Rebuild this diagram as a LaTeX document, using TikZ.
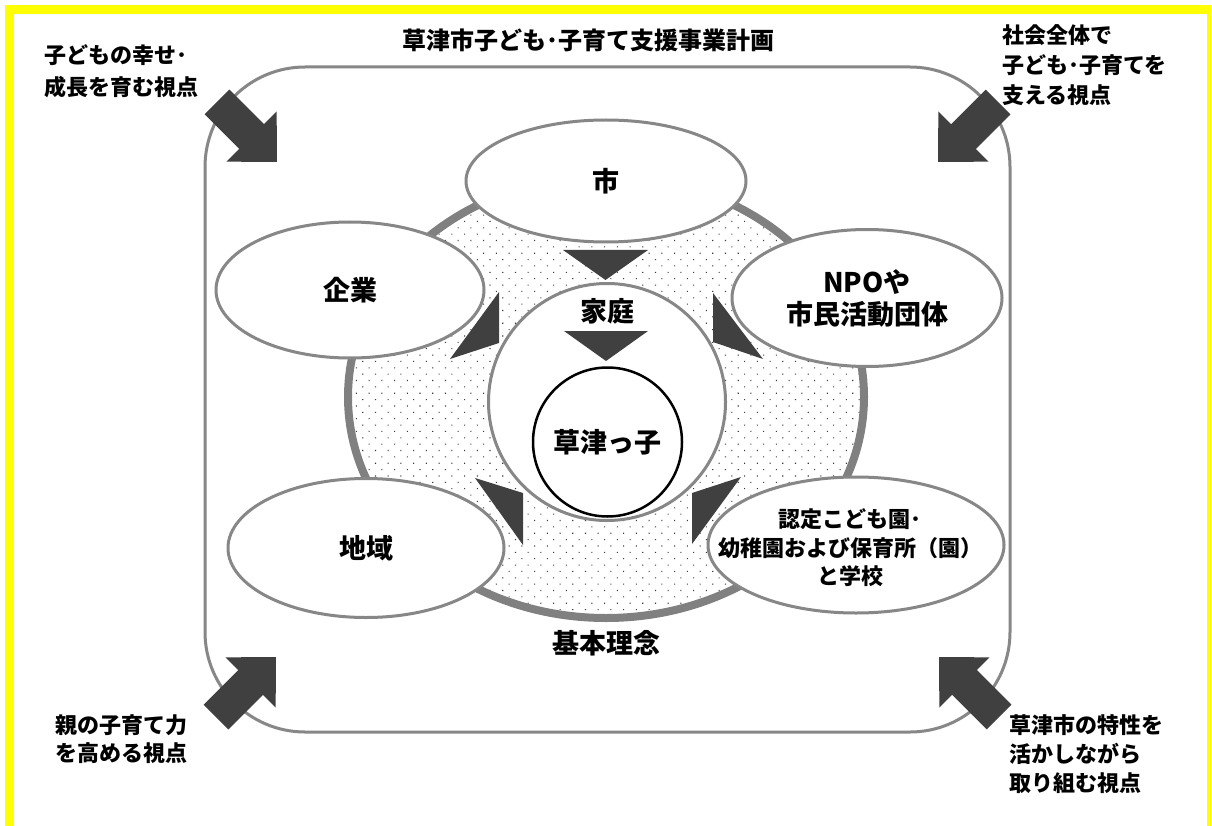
\documentclass[tikz,border=0pt]{standalone}
\usepackage{fontspec}
\setmainfont{Noto Sans CJK JP}
\usetikzlibrary{shapes.geometric,patterns.meta}
\definecolor{frameyellow}{HTML}{FFFF00}
\definecolor{edgegray}{HTML}{878787}
\definecolor{ringgray}{HTML}{808080}
\definecolor{darkfill}{HTML}{404040}
\definecolor{dotgray}{HTML}{3A3A3A}
\newcommand\myfontT{\fontsize{24}{28}\selectfont\bfseries}
\newcommand\myfontA{\fontsize{27}{32}\selectfont\bfseries}
\newcommand\myfontB{\fontsize{22}{28.5}\selectfont\bfseries}
\newcommand\blockarrow[3]{%
  \fill[darkfill,shift={(#1,#2)},rotate=#3] (0,0) -- (-36,-35.5) -- (-36,-17.5) -- (-85,-17.5) -- (-85,17.5) -- (-36,17.5) -- (-36,35.5) -- cycle;}
\tikzset{
  org/.style={ellipse, draw=edgegray, line width=3pt, fill=white, inner sep=0pt},
  orglbl/.style={align=center, inner sep=0pt, font=\myfontA},
  ringstyle/.style={ellipse, draw=ringgray, line width=8pt, pattern={Dots[angle=45,distance=9pt,radius=0.75pt]}, pattern color=dotgray, inner sep=0pt},
  cornerlbl/.style={anchor=west, align=left, inner sep=0pt},
  tri/.style={fill=darkfill}
}
\begin{document}
\begin{tikzpicture}[x=1pt,y=-1pt]
\useasboundingbox (0,0) rectangle (1212,826);
\fill[white] (0,0) rectangle (1212,826);
% yellow frame
\fill[frameyellow] (5,5) rectangle (1211,14);
\fill[frameyellow] (5,5) rectangle (14,826);
\fill[frameyellow] (1207,5) rectangle (1211,826);
% plan frame
\draw[edgegray, line width=3pt, rounded corners=100pt] (205,67) rectangle (1010,732);
% basic philosophy ring
\node[ringstyle, minimum width=516pt, minimum height=442pt] (ring) at (606,397) {};
% organisations
\node[org, minimum width=280pt, minimum height=122pt] (shi) at (606,181) {};
\node[orglbl] (shilbl) at (shi.center) {市};
\node[org, minimum width=268pt, minimum height=136pt] (kigyo) at (350,290) {};
\node[orglbl] (kigyolbl) at (kigyo.center) {企業};
\node[org, minimum width=270pt, minimum height=137pt] (npo) at (867,298) {};
\node[orglbl] (npolbl) at (npo.center) {NPOや\\市民活動団体};
\node[org, minimum width=276pt, minimum height=139pt] (chiiki) at (366,548) {};
\node[orglbl] (chiikilbl) at (chiiki.center) {地域};
\node[org, minimum width=296pt, minimum height=136pt] (school) at (856,545) {};
\node[orglbl, font=\myfontB] (schoollbl) at ([xshift=-6pt,yshift=-3pt]school.center) {認定こども園･\\幼稚園および保育所（園）\\と学校};
% family and child
\node[circle, draw=edgegray, line width=3pt, fill=white, minimum size=237pt, inner sep=0pt] (katei) at (607,402) {};
\node[font=\myfontA, inner sep=0pt] (kateilbl) at (607,311) {家庭};
\node[circle, draw=black, line width=2.5pt, fill=white, minimum size=149pt, inner sep=0pt] (kodomo) at (607.5,442) {};
\node[orglbl] (kodomolbl) at (kodomo.center) {草津っ子};
\node[font=\myfontA, inner sep=0pt] (rinen) at (606,643) {基本理念};
% triangles
\fill[tri] (563,250) -- (648,250) -- (605.5,280) -- cycle;
\fill[tri] (564,331) -- (648,331) -- (606,361) -- cycle;
\fill[tri] (499,292) -- (450,359) -- (499,343) -- cycle;
\fill[tri] (713,293) -- (763,359) -- (713,342) -- cycle;
\fill[tri] (475,478) -- (523,545) -- (523,493) -- cycle;
\fill[tri] (741,477) -- (692,544) -- (692,493) -- cycle;
% viewpoint arrows
\blockarrow{277}{162}{-45}
\blockarrow{938}{162}{-135}
\blockarrow{276}{657}{45}
\blockarrow{939}{657}{135}
% texts
\node[font=\myfontT, inner sep=0pt] (title) at (588,40) {草津市子ども･子育て支援事業計画};
\node[cornerlbl, font={\fontsize{22}{32}\selectfont\bfseries}] (vptl) at (44,71) {子どもの幸せ･\\成長を育む視点};
\node[cornerlbl, font={\fontsize{22}{30}\selectfont\bfseries}] (vptr) at (1002,65) {社会全体で\\子ども･子育てを\\支える視点};
\node[cornerlbl, font={\fontsize{22}{28}\selectfont\bfseries}] (vpbl) at (55,739) {親の子育て力\\を高める視点};
\node[cornerlbl, font={\fontsize{22}{29}\selectfont\bfseries}] (vpbr) at (1009,754) {草津市の特性を\\活かしながら\\取り組む視点};
\end{tikzpicture}
\end{document}
